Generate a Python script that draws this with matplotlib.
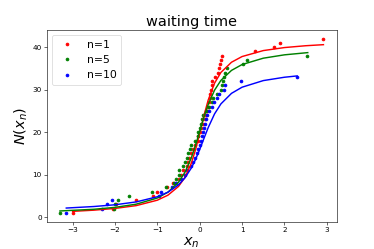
import numpy as np
import matplotlib
matplotlib.use("Agg")
import matplotlib.pyplot as plt

x_n1 = [-3.00, -2.05, -1.97, -1.50, -1.10, -1.00, -0.77, -0.62, -0.50, -0.45,
        -0.40, -0.30, -0.28, -0.25, -0.20, -0.15, -0.10, -0.05, -0.03, 0.00,
        0.03, 0.08, 0.12, 0.15, 0.18, 0.20, 0.22, 0.24, 0.25, 0.27,
        0.28, 0.29, 0.37, 0.42, 0.45, 0.47, 0.50, 0.52, 1.31, 1.76,
        1.89, 2.92]
x_n5 = [-3.30, -2.03, -2.00, -1.93, -1.68, -1.12, -0.80, -0.60, -0.55, -0.50,
        -0.48, -0.40, -0.35, -0.30, -0.27, -0.22, -0.20, -0.10, -0.05, -0.03,
        0.00, 0.02, 0.05, 0.08, 0.15, 0.22, 0.28, 0.32, 0.40, 0.50,
        0.53, 0.55, 0.57, 0.60, 0.64, 1.03, 1.12, 2.53]
x_n10 = [-3.15, -2.30, -2.20, -2.07, -0.95, -0.92, -0.65, -0.55, -0.45, -0.35,
         -0.30, -0.20, -0.15, -0.10, -0.07, -0.05, 0.00, 0.03, 0.05, 0.08,
         0.10, 0.12, 0.15, 0.18, 0.22, 0.30, 0.33, 0.40, 0.45, 0.58,
         0.60, 0.97, 2.29]
N1 = list(range(1, len(x_n1) + 1))
N5 = list(range(1, len(x_n5) + 1))
N10 = list(range(1, len(x_n10) + 1))

# fitted curves, values
fit_x1 = [-3.0, -2.5, -2.0, -1.5, -1.0, -0.75, -0.5, -0.35, -0.2, -0.1, 0.0,
          0.1, 0.2, 0.35, 0.5, 0.75, 1.0, 1.5, 2.0, 2.5, 2.92]
fit_y1 = [1.36, 1.64, 2.05, 2.71, 3.99, 5.17, 7.23, 9.33, 12.65, 15.83, 19.75,
          23.89, 27.54, 31.52, 34.04, 36.44, 37.78, 39.18, 39.89, 40.32, 40.57]
fit_x5 = [-3.3, -2.5, -2.0, -1.5, -1.0, -0.75, -0.5, -0.35, -0.2, -0.1, 0.0,
          0.1, 0.2, 0.35, 0.5, 0.75, 1.0, 1.5, 2.0, 2.55]
fit_y5 = [1.45, 1.85, 2.3, 3.05, 4.5, 5.88, 8.23, 10.53, 13.9, 16.86, 20.2,
          23.54, 26.5, 29.87, 32.17, 34.52, 35.9, 37.39, 38.18, 38.7]
fit_x10 = [-3.15, -2.5, -2.0, -1.5, -1.0, -0.75, -0.5, -0.35, -0.2, -0.1, 0.0,
           0.1, 0.2, 0.35, 0.5, 0.75, 1.0, 1.5, 2.0, 2.3]
fit_y10 = [2.14, 2.5, 2.91, 3.58, 4.8, 5.87, 7.61, 9.23, 11.53, 13.54, 15.93,
           18.52, 21.06, 24.29, 26.64, 29.12, 30.57, 32.12, 32.91, 33.22]

dpi = 52
fig = plt.figure(figsize=(374 / dpi, 249 / dpi), dpi=dpi)
ax = fig.add_subplot(111)

ms = 8
ax.plot(x_n1, N1, 'r.', ms=ms, label='n=1')
ax.plot(x_n5, N5, 'g.', ms=ms, label='n=5')
ax.plot(x_n10, N10, 'b.', ms=ms, label='n=10')
ax.plot(fit_x1, fit_y1, 'r-', lw=2)
ax.plot(fit_x5, fit_y5, 'g-', lw=2)
ax.plot(fit_x10, fit_y10, 'b-', lw=2)

ax.set_title('waiting time', fontsize=20)
ax.set_xlabel('$x_n$', fontsize=20)
ax.set_ylabel('$N(x_n)$', fontsize=20)
ax.legend(loc='upper left', fontsize=15)

fig.savefig('out.png', dpi=dpi)
